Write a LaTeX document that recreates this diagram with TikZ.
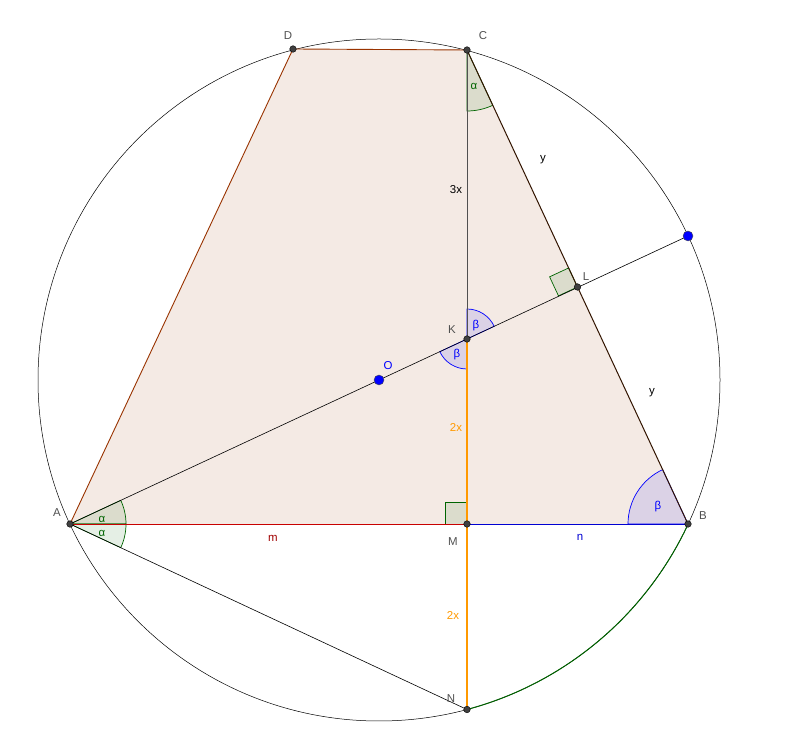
\documentclass[tikz,border=0pt]{standalone}
\usepackage{fontspec}
\setmainfont{Liberation Sans}
\usepackage{tikz}
\usetikzlibrary{calc}

\begin{document}
\begin{tikzpicture}[x=1bp,y=1bp,font=\fontsize{11.5}{13}\selectfont,
  pt/.style={fill=cdot,draw=black,line width=0.4bp},
  lab/.style={text=cgray,inner sep=0pt},
  anga/.style={fill=cgreen,fill opacity=0.1,draw=cgreen,line width=0.7bp},
  angb/.style={fill=blue,fill opacity=0.1,draw=blue,line width=0.7bp}]
%%
\definecolor{cfill}{RGB}{244,234,228}%
\definecolor{cbrown}{RGB}{153,51,0}%
\definecolor{cdark}{RGB}{50,20,0}%
\definecolor{cred}{RGB}{200,0,0}%
\definecolor{cblue}{RGB}{0,0,210}%
\definecolor{corange}{RGB}{255,153,0}%
\definecolor{cgreen}{RGB}{0,100,0}%
\definecolor{cgray}{RGB}{80,80,80}%
\definecolor{cdot}{RGB}{64,64,64}%
%
\useasboundingbox (0,0) rectangle (797,743);
  \coordinate (A) at (70,219);
  \coordinate (B) at (688,219);
  \coordinate (C) at (467,693);
  \coordinate (D) at (293,694);
  \coordinate (M) at (467,219);
  \coordinate (N) at (467,33.5);
  \coordinate (K) at (467,404);
  \coordinate (L) at (577.5,456);
  \coordinate (O) at (379,363);
  \coordinate (P) at (688,507);

  \fill[cfill] (A) -- (B) -- (C) -- (D) -- cycle;

  % angles
  \filldraw[anga] (C) -- ++(270:61) arc[start angle=270,end angle=295,radius=61] -- cycle;
  \filldraw[anga] (A) -- ++(0:56) arc[start angle=0,end angle=25,radius=56] -- cycle;
  \filldraw[anga] (A) -- ++(-25:56) arc[start angle=-25,end angle=0,radius=56] -- cycle;
  \filldraw[angb] (K) -- ++(25:30) arc[start angle=25,end angle=90,radius=30] -- cycle;
  \filldraw[angb] (K) -- ++(205:30) arc[start angle=205,end angle=270,radius=30] -- cycle;
  \filldraw[angb] (B) -- ++(115:60) arc[start angle=115,end angle=180,radius=60] -- cycle;
  \filldraw[anga] (M) -- ++(-22,0) -- ++(0,22) -- ++(22,0) -- cycle;
  \filldraw[anga] (L) -- ++(205:21) -- ++(115:21) -- ++(25:21) -- cycle;

  % lines
  \draw[black,line width=0.5bp] (O) circle (341);
  \draw[cgreen,line width=1bp] (N) arc[start angle=-75.05,end angle=-25,radius=341];
  \draw[line width=0.6bp] (A) -- (P);
  \draw[line width=0.6bp] (A) -- (N);
  \draw[cgray,line width=0.8bp] (C) -- (K);
  \draw[corange,line width=1.1bp] (K) -- (M);
  \draw[corange,line width=1.1bp] (M) -- (N);
  \draw[cred,line width=0.9bp] (A) -- (M);
  \draw[cblue,line width=0.9bp] (M) -- (B);
  \draw[cbrown,line width=0.9bp] (A) -- (D) -- (C);
  \draw[cdark,line width=1bp] (C) -- (B);

  % points
  \foreach \p in {A,B,C,D,M,N,K,L} \fill[pt] (\p) circle (3.3);
  \filldraw[fill=blue,draw=black!70,line width=0.4bp] (O) circle (5);
  \filldraw[fill=blue,draw=black!70,line width=0.4bp] (P) circle (5);

  % labels
  \node[lab] (lA) at (57,230) {A};
  \node[lab] (lB) at (703,227) {B};
  \node[lab] (lC) at (483,707) {C};
  \node[lab] (lD) at (288,707) {D};
  \node[lab] (lM) at (453,201) {M};
  \node[lab] (lN) at (451,44) {N};
  \node[lab] (lK) at (452,413) {K};
  \node[lab] (lL) at (586,466) {L};
  \node[lab,text=blue] (lO) at (388,377) {O};
  \node[lab,text=black] (ly1) at (543,583) {y};
  \node[lab,text=black] (ly2) at (652,350) {y};
  \node[lab,text=black] (l3x) at (456,553) {3x};
  \node[lab,text=corange] (l2x1) at (456,315) {2x};
  \node[lab,text=corange] (l2x2) at (453,127) {2x};
  \node[lab,text=cred!80!black] (lm) at (273,205) {m};
  \node[lab,text=cblue] (ln) at (580,206) {n};
  \node[lab,text=cgreen] (a1) at (474,657) {α};
  \node[lab,text=cgreen] (a2) at (102,224) {α};
  \node[lab,text=cgreen] (a3) at (102,210) {α};
  \node[lab,text=blue] (b1) at (476,417) {β};
  \node[lab,text=blue] (b2) at (457,388) {β};
  \node[lab,text=blue] (b3) at (658,236) {β};
%
\end{tikzpicture}
\end{document}
